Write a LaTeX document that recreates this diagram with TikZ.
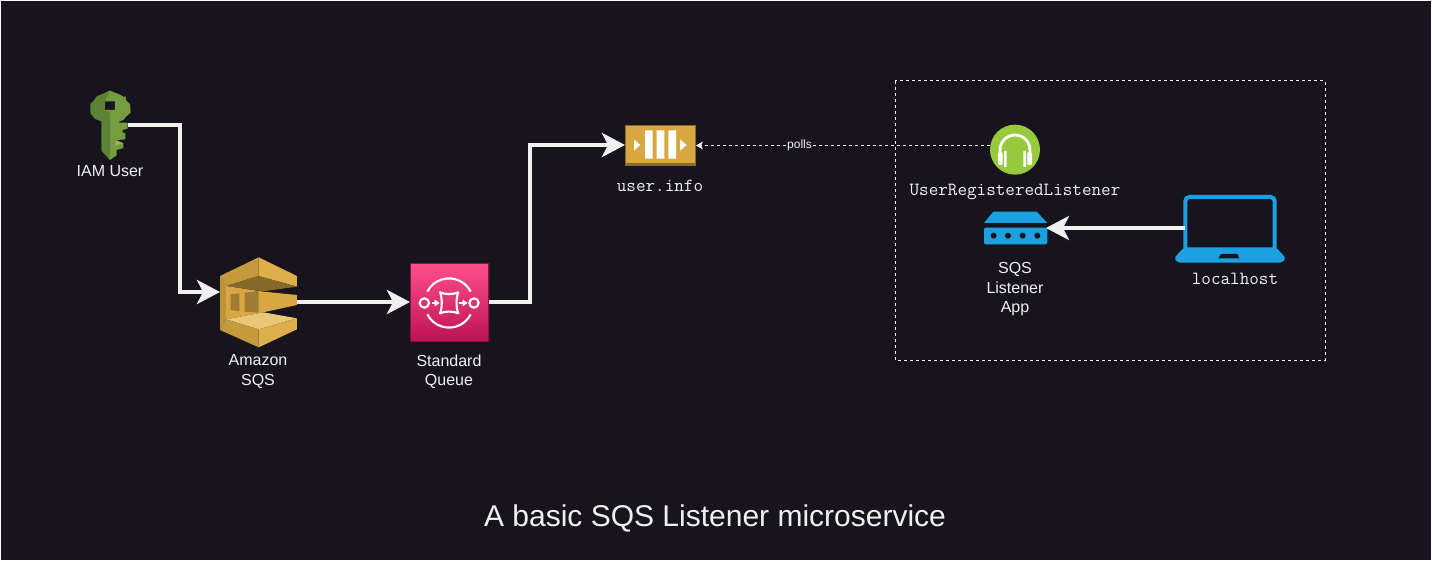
\documentclass[tikz,border=0pt]{standalone}
\usepackage{fontspec}
\setmainfont{Liberation Sans}
\usetikzlibrary{arrows.meta}
\definecolor{bgc}{HTML}{18141D}
\definecolor{fgc}{HTML}{F0F0F0}
\definecolor{gA}{HTML}{D9A741}
\definecolor{gB}{HTML}{876929}
\definecolor{gC}{HTML}{DDAE4A}
\definecolor{gD}{HTML}{E8C678}
\definecolor{gE}{HTML}{9E7C33}
\definecolor{gF}{HTML}{C49A3C}
\definecolor{blueic}{HTML}{1BA1E2}
\definecolor{kA}{HTML}{759C3E}
\definecolor{kC}{HTML}{5C8235}
\definecolor{hp}{HTML}{97C93D}
\definecolor{qtop}{HTML}{FF4F8B}
\definecolor{qbot}{HTML}{BC1356}
\tikzset{
  x=1pt,y=-1pt,
  lbl/.style={text=fgc,font=\fontsize{16}{19.5}\selectfont,align=center,inner sep=0pt},
  mono/.style={text=fgc,font=\fontsize{18.6}{20}\selectfont\ttfamily,inner sep=0pt},
  flow/.style={draw=fgc,line width=4pt,-{Stealth[length=23pt,width=24pt,inset=6pt]}},
  poll/.style={draw=fgc,line width=1pt,dash pattern=on 3pt off 3pt,-{Stealth[length=7pt,width=8pt,inset=2pt]}},
  zoomed/.style={shift={(#1)},x=0.3333pt,y=-0.3333pt},
}
\begin{document}
\begin{tikzpicture}
\useasboundingbox (0,0) rectangle (1432,561);
\fill[bgc] (0,0) rectangle (1432,561);
\draw[white,line width=1pt] (0.5,0.5) rectangle (1431.5,560.5);

% dashed container
\draw[fgc,line width=1pt,dash pattern=on 3pt off 3pt] (895,81) rectangle (1325,360);

% connector ends on the icons
\coordinate (keyR) at (128,125);
\coordinate (sqsL) at (220,292);
\coordinate (sqsR) at (297,302);
\coordinate (qL) at (410,302);
\coordinate (qR) at (489,302);
\coordinate (uiL) at (625,145);
\coordinate (uiR) at (696,145.5);
\coordinate (hpL) at (990,145.5);
\coordinate (rtR) at (1046,228);
\coordinate (lpL) at (1185,228);

% key icon
\begin{scope}[zoomed={60,80}]
  \fill[kA,even odd rule] (150,32) -- (180,44) -- (190,50) -- (198,50) -- (198,60) -- (210,72) -- (212,98) -- (198,110) -- (190,120) -- (178,124) -- (178,128) -- (203,128) -- (203,146) -- (188,150) -- (188,158) -- (196,160) -- (196,178) -- (170,180) -- (190,190) -- (190,204) -- (170,210) -- (170,226) -- (150,240) -- (125,212) -- (125,124) -- (105,116) -- (92,100) -- (92,72) -- (102,62) -- (110,50) -- cycle
    (135,64) -- (165,64) -- (165,90) -- (135,90) -- cycle;
  \fill[kC] (125,124) -- (150,98) -- (150,240) -- (125,212) -- cycle;
  \fill[kC] (92,72) -- (92,100) -- (105,116) -- (125,124) -- (150,98) -- (135,90) -- (135,64) -- (150,32) -- (110,50) -- (102,62) -- cycle;
  \fill[gD!50!kA] (166,183) -- (190,190) -- (168,195) -- cycle;
\end{scope}

% SQS icon
\begin{scope}[zoomed={200,250}]
  \fill[gC] (176,22) -- (291,78) -- (291,110) -- (176,78) -- cycle;
  \fill[gF] (60,78) -- (176,22) -- (176,78) -- (78,108) -- (60,108) -- cycle;
  \fill[gB] (78,108) -- (176,78) -- (291,110) -- (190,124) -- cycle;
  \fill[gE!45!gA] (60,78) -- (78,108) -- (78,208) -- (60,240) -- cycle;
  \fill[gA] (78,108) -- (190,125) -- (291,135) -- (291,165) -- (190,187) -- (78,208) -- cycle;
  \fill[gD] (78,208) -- (190,187) -- (291,205) -- (176,238) -- cycle;
  \fill[gF] (60,240) -- (78,208) -- (176,238) -- (176,292) -- cycle;
  \fill[gC] (176,292) -- (291,238) -- (291,205) -- (176,238) -- cycle;
  \fill[gE] (92,133) -- (118,130) -- (118,183) -- (92,180) -- cycle;
  \fill[gE] (134,128) -- (176,123) -- (176,188) -- (134,185) -- cycle;
\end{scope}

% queue icon
\shade[top color=qtop,bottom color=qbot] (410,263.5) rectangle (489,341.5);
\draw[qbot!75!black,line width=0.8pt] (410.4,263.9) rectangle (488.6,341.1);
\begin{scope}[zoomed={400,255},draw=white,line width=2.1pt]
  \draw (73,144) circle (14);
  \draw (222,144) circle (14);
  \draw (82,110) arc[start angle=207,end angle=333,radius=73];
  \draw (82,178) arc[start angle=153,end angle=27,radius=73];
  \draw[line join=round] (120,112) .. controls (135,119) and (160,119) .. (175,112) .. controls (168,127) and (168,160) .. (175,175) .. controls (160,168) and (135,168) .. (120,175) .. controls (127,160) and (127,127) .. (120,112) -- cycle;
  \draw[line width=1.6pt,-{Stealth[length=5pt,width=6.5pt,inset=0pt]}] (96,144) -- (119,144);
  \draw[line width=1.6pt,-{Stealth[length=5pt,width=6.5pt,inset=0pt]}] (176,144) -- (203,144);
\end{scope}

% user.info icon
\begin{scope}[zoomed={600,110}]
  \fill[gA] (76,46) rectangle (287,166);
  \fill[gB] (76,158) rectangle (287,166);
  \draw[gB,line width=0.8pt] (76,46) rectangle (287,166);
  \fill[white] (135,61) rectangle (158,146) (170,61) rectangle (193,146) (205,61) rectangle (228,146);
  \fill[white] (102,88) -- (121,105) -- (102,122) -- cycle;
  \fill[white] (240,88) -- (260,105) -- (240,122) -- cycle;
\end{scope}

% headphones icon
\begin{scope}[zoomed={960,115}]
  \fill[hp] (165,104) circle (75);
  \draw[white,line width=2.8pt] (120,130) -- (120,105) arc[start angle=180,end angle=360,radius=45] -- (210,130);
  \fill[white,rounded corners=1pt] (114,112) -- (114,150) -- (128,150) -- (128,112) -- cycle;
  \fill[white,rounded corners=1pt] (202,112) -- (202,150) -- (216,150) -- (216,112) -- cycle;
  \fill[white] (132,108) rectangle (140,156) (190,108) rectangle (198,156);
\end{scope}

% router icon
\begin{scope}[zoomed={960,115}]
  \fill[blueic] (72,324) -- (100,290) -- (230,290) -- (262,324) -- cycle;
  \fill[blueic,rounded corners=2pt] (72,338) rectangle (262,388);
  \foreach \cx in {101,144,188,232} \fill[bgc] (\cx,362) circle (9);
\end{scope}

% laptop icon
\begin{scope}[zoomed={1160,185}]
  \draw[blueic,line width=4pt,rounded corners=4pt] (76,190) -- (76,36) -- (344,36) -- (344,190);
  \fill[blueic,rounded corners=2pt] (72,187) -- (348,187) -- (378,220) -- (366,233) -- (54,233) -- (42,220) -- cycle;
  \fill[bgc] (183,207) -- (232,207) -- (238,220) -- (175,220) -- cycle;
\end{scope}

% labels
\node[lbl] (iamlbl) at (110,171) {IAM User};
\node[lbl] (sqslbl) at (258,371.5) {Amazon\\SQS};
\node[lbl] (stdlbl) at (449,371.5) {Standard\\Queue};
\node[mono] (uilbl) at (660,186) {user.info};
\node[mono] (listlbl) at (1015,191.5) {UserRegisteredListener};
\node[lbl] (applbl) at (1015,289.5) {SQS\\Listener\\App};
\node[mono] (lhlbl) at (1235,279) {localhost};
\node[text=fgc,font=\fontsize{30}{34}\selectfont,inner sep=0pt] (title) at (715,518) {A basic SQS Listener microservice};

% connectors
\draw[flow] (keyR) -- (180,125) -- (180,292) -- (sqsL);
\draw[flow] (sqsR) -- (qL);
\draw[flow] (qR) -- (530,302) -- (530,145) -- (uiL);
\draw[flow] (lpL) -- (rtR);
\draw[poll] (hpL) -- node[pos=0.648,fill=bgc,inner sep=1pt,text=fgc,font=\fontsize{12}{14}\selectfont] (pollslbl) {polls} (uiR);
\end{tikzpicture}
\end{document}
